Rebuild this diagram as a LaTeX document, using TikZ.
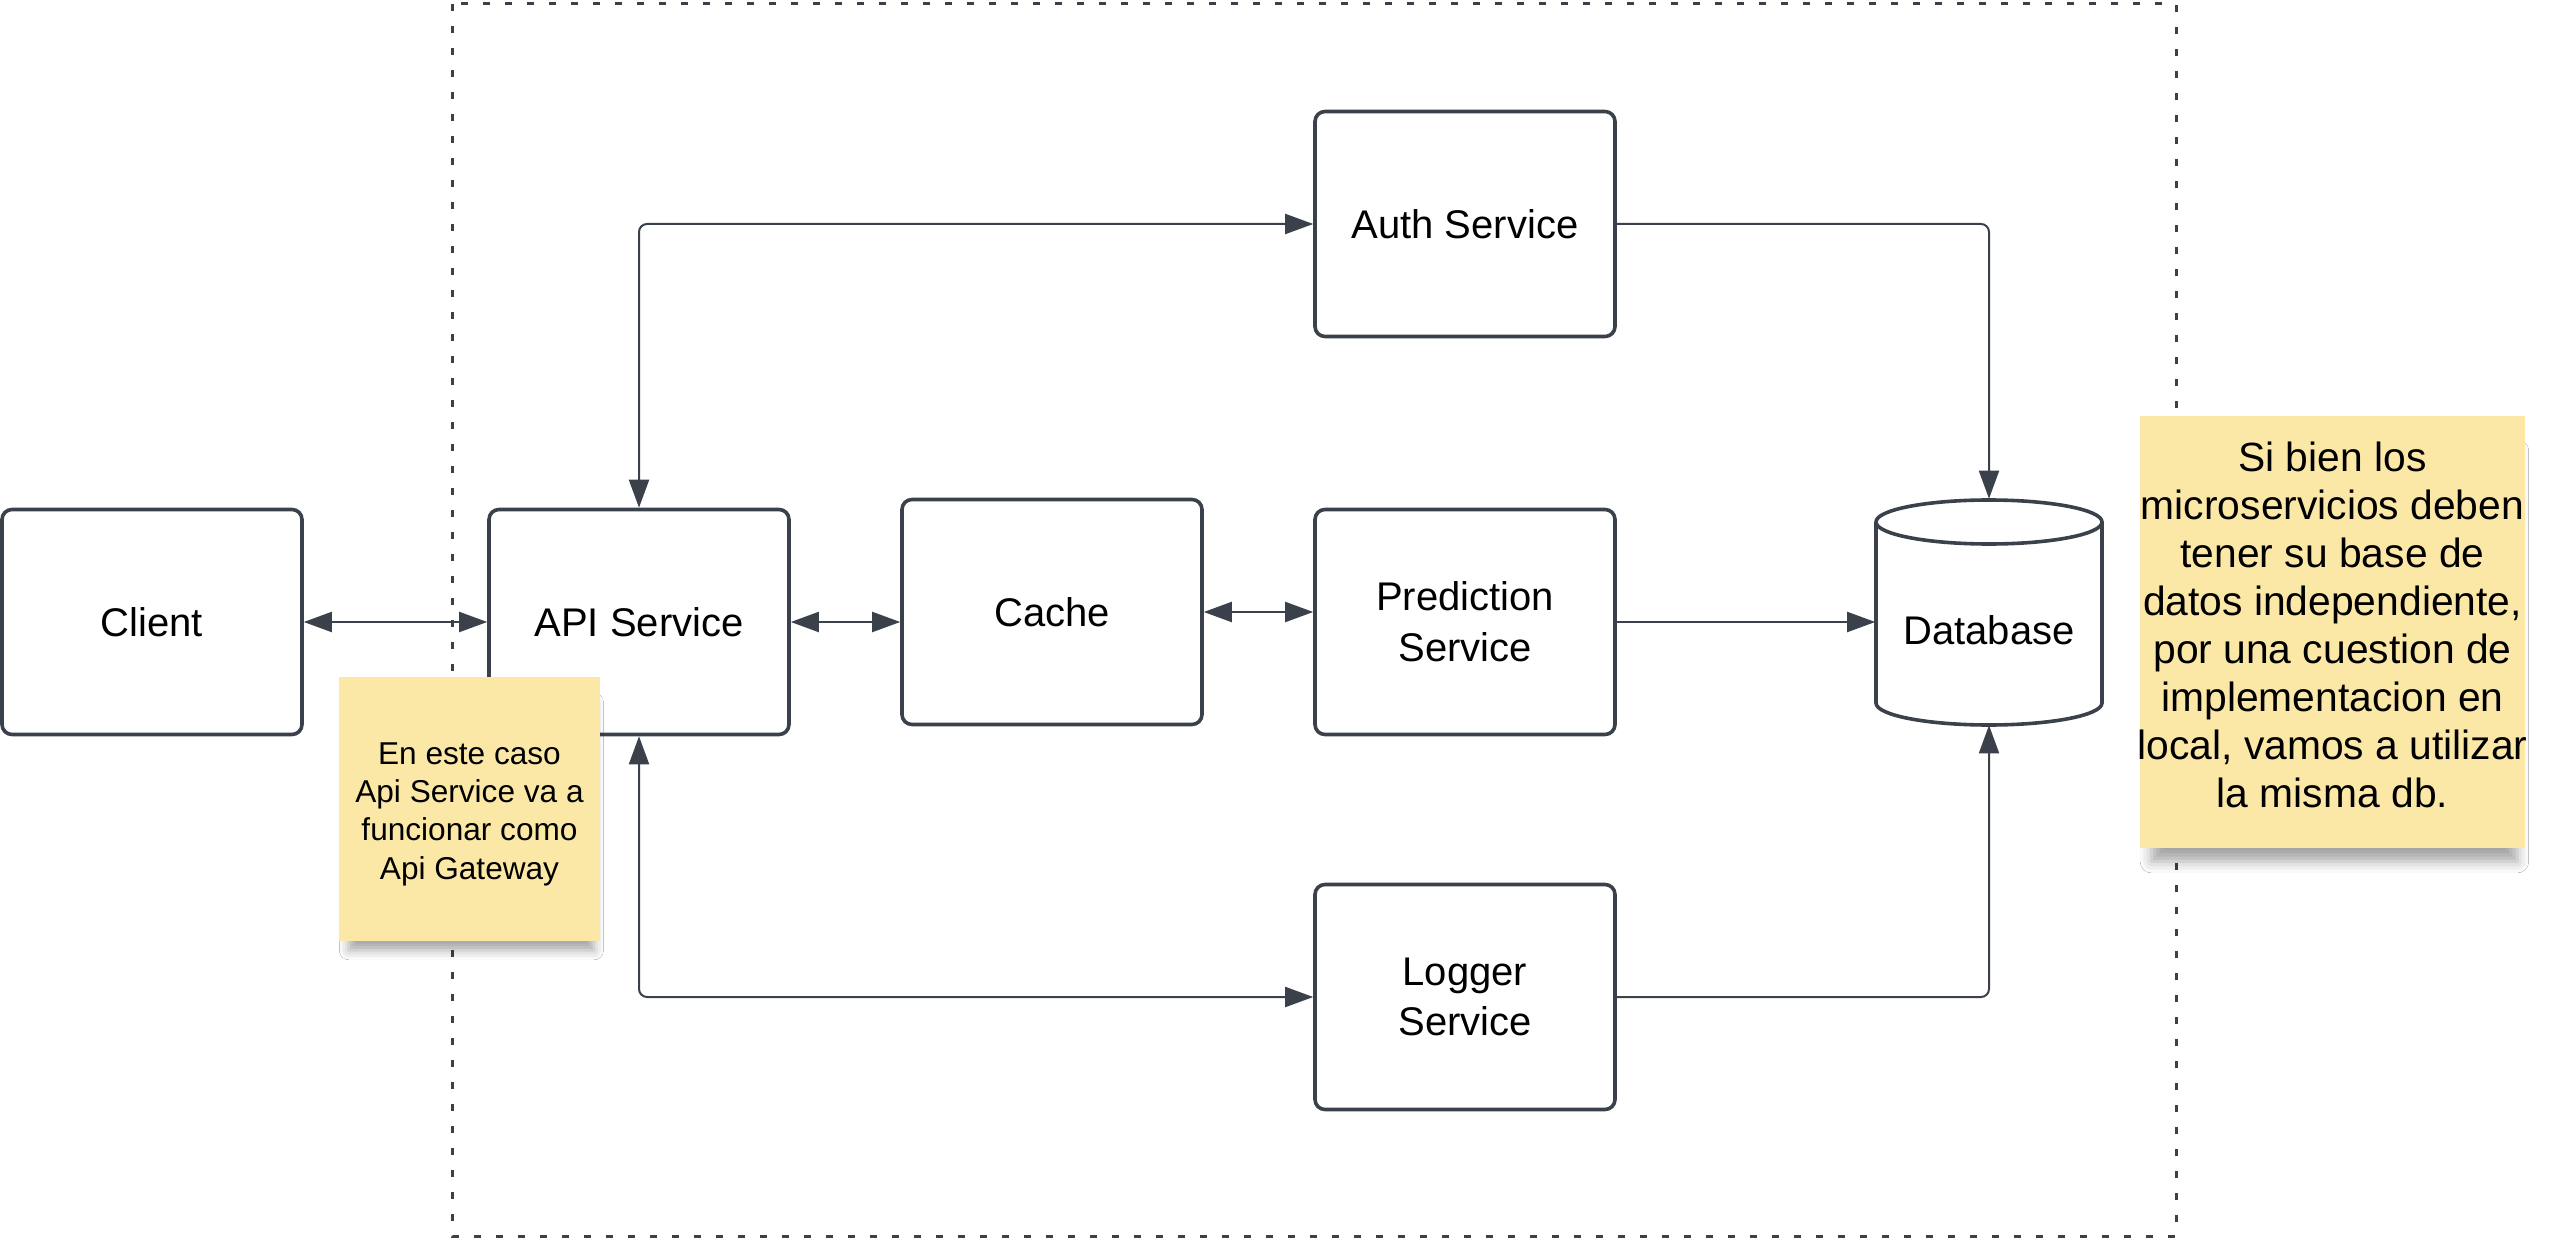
\documentclass[tikz,border=0pt]{standalone}
\usepackage{fontspec}
\setmainfont{Liberation Sans}
\usetikzlibrary{arrows.meta,shadows.blur,calc}
\definecolor{ink}{HTML}{3A414A}
\definecolor{sticky}{RGB}{252,232,166}
\begin{document}
\begin{tikzpicture}[x=0.25pt,y=-0.25pt,
  >={Triangle[length=7pt,width=5pt]},
  svc/.style={draw=ink,line width=0.9pt,rounded corners=2.5pt,fill=white,
    minimum width=75pt,minimum height=56.25pt,align=center,inner sep=0pt,
    font=\fontsize{10}{12.7}\selectfont},
  conn/.style={draw=ink,line width=0.5pt,rounded corners=2pt},
  frame/.style={draw=ink,line width=0.75pt,dash pattern=on 1.75pt off 3.75pt},
  note/.style={fill=sticky,draw=none,inner sep=0pt},
  notetext/.style={align=center,inner sep=0pt},
  cyl/.style={draw=ink,line width=0.9pt}
]
\useasboundingbox (0,0) rectangle (2571,1241);
\fill[white] (0,0) rectangle (2571,1241);

% container
\draw[frame] (452,4) rectangle (2176,1236);

% services
\node[svc] (client) at (152,622) {Client};
\node[svc] (api) at (639,622) {API Service};
\node[svc] (cache) at (1052,612) {Cache};
\node[svc] (auth) at (1465,224) {Auth Service};
\node[svc] (pred) at (1465,622) {Prediction\\Service};
\node[svc] (logger) at (1465,997) {Logger\\Service};

% database
\node[draw=none,minimum width=56.5pt,minimum height=56.25pt,inner sep=0pt] (db) at (1989,612) {};
\fill[white] (1876,522) -- (1876,703) arc[start angle=180,end angle=360,x radius=28.25pt,y radius=5.5pt]
  -- (2102,522) arc[start angle=0,end angle=180,x radius=28.25pt,y radius=5.5pt] -- cycle;
\draw[cyl] (1876,522) -- (1876,703) arc[start angle=180,end angle=360,x radius=28.25pt,y radius=5.5pt]
  -- (2102,522) arc[start angle=0,end angle=180,x radius=28.25pt,y radius=5.5pt] -- cycle;
\draw[cyl] (1876,522) arc[start angle=180,end angle=360,x radius=28.25pt,y radius=5.5pt];
\node[font=\fontsize{10}{12.7}\selectfont] (dbtext) at (1989,630) {Database};

% connectors
\draw[conn,<->] (client.east) -- (api.west);
\draw[conn,<->] (api.east) -- (cache.west |- api.east);
\draw[conn,<->] (cache.east) -- (pred.west |- cache.east);
\draw[conn,<->] (api.north) |- (auth.west);
\draw[conn,<->] (api.south) |- (logger.west);
\draw[conn,->] (auth.east) -| (db.north);
\draw[conn,->] (pred.east) -- (db.west |- pred.east);
\draw[conn,->] (logger.east) -| (db.south);

% sticky notes
\node[note,minimum width=65.25pt,minimum height=66pt,
  blur shadow={shadow xshift=0.5pt,shadow yshift=-4.6pt,shadow opacity=35,shadow blur radius=2.5pt,shadow scale=0.94}]
  (note1) at (469.5,809) {};
\node[notetext,font=\fontsize{7.9}{9.6}\selectfont] (note1text) at (469.5,814)
  {En este caso\\Api Service va a\\funcionar como\\Api Gateway};
\node[note,minimum width=96.25pt,minimum height=108pt,
  blur shadow={shadow xshift=0.5pt,shadow yshift=-6.4pt,shadow opacity=35,shadow blur radius=3pt,shadow scale=0.95}]
  (note2) at (2332.5,632) {};
\node[notetext,font=\fontsize{10.2}{12}\selectfont] (note2text) at (2332.5,625)
  {Si bien los\\microservicios deben\\tener su base de\\datos independiente,\\por una cuestion de\\implementacion en\\local, vamos a utilizar\\la misma db.};
\end{tikzpicture}
\end{document}
